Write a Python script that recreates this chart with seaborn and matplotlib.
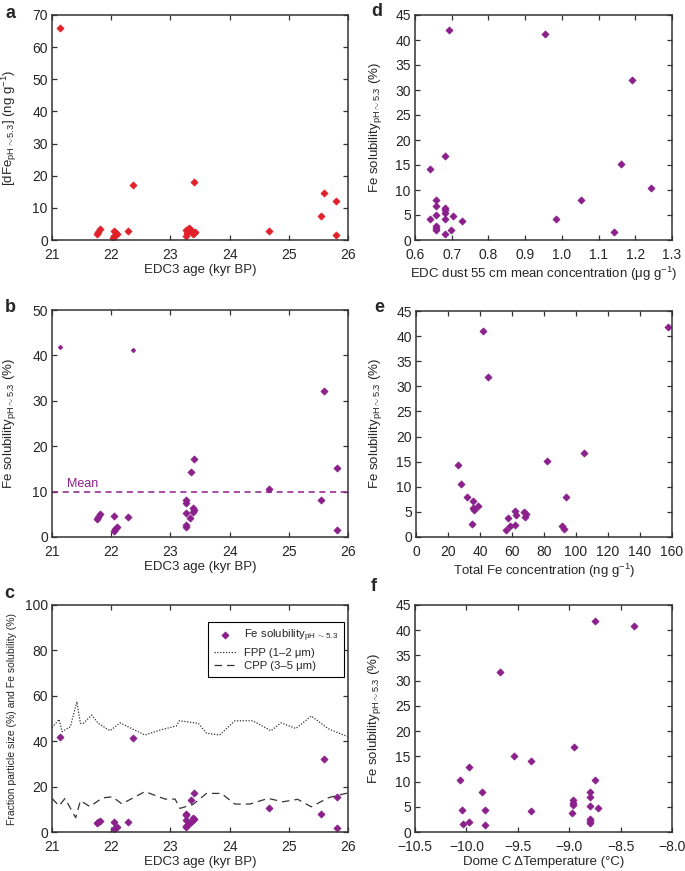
import numpy as np
import matplotlib
matplotlib.use("Agg")
from matplotlib import pyplot as plt
import seaborn as sns

sns.set_style("ticks")
plt.rcParams['font.family'] = ['Liberation Sans', 'DejaVu Sans']
plt.rcParams['mathtext.fontset'] = 'custom'
plt.rcParams['mathtext.rm'] = 'Liberation Sans'
plt.rcParams['mathtext.it'] = 'Liberation Sans:italic'
plt.rcParams['mathtext.bf'] = 'Liberation Sans:bold'

red = '#e2202a'
purple = '#8b1f8c'
dark = '#333333'

# panel a: dissolved Fe vs age
a_age = [21.14, 21.76, 21.78, 21.81, 22.04, 22.05, 22.03, 22.08, 22.10, 22.29, 22.36,
         23.27, 23.28, 23.27, 23.32, 23.35, 23.37, 23.40, 23.42, 23.38, 23.40,
         24.66, 25.55, 25.59, 25.80, 25.80]
a_dfe = [66.0, 1.9, 2.5, 3.3, 2.9, 1.1, 0.5, 2.3, 1.8, 2.7, 17.1,
         3.1, 2.1, 1.1, 3.6, 3.2, 2.6, 2.2, 2.6, 1.8, 17.9,
         2.9, 7.5, 14.5, 12.2, 1.5]

# panel b/c: Fe solubility vs age
b_age = [21.14, 21.76, 21.78, 21.81, 22.05, 22.04, 22.07, 22.09, 22.29, 22.36,
         23.27, 23.27, 23.27, 23.33, 23.38, 23.40, 23.38, 23.27, 23.27, 23.34, 23.40,
         24.67, 25.54, 25.59, 25.81, 25.81]
b_sol = [41.9, 3.9, 4.4, 5.0, 4.6, 1.3, 1.7, 2.1, 4.4, 41.2,
         8.1, 7.4, 5.3, 4.1, 6.3, 5.9, 5.5, 2.6, 2.1, 14.3, 17.1,
         10.5, 8.1, 32.1, 15.2, 1.6]
mean_sol = 10.0

# panel c: particle size fractions
fpp_age = [21.0, 21.12, 21.17, 21.31, 21.42, 21.48, 21.53, 21.67, 21.78, 21.98, 22.15,
           22.57, 22.82, 23.10, 23.15, 23.47, 23.61, 23.83, 24.09, 24.39, 24.70,
           24.87, 25.12, 25.38, 25.66, 25.85, 26.0]
fpp = [46.0, 49.6, 44.2, 46.4, 57.4, 47.9, 47.9, 51.5, 47.9, 44.6, 48.1,
       42.7, 44.9, 46.7, 49.0, 47.9, 43.5, 42.7, 49.0, 49.0, 44.6,
       48.1, 45.6, 51.1, 45.6, 43.5, 42.0]
cpp_age = [21.0, 21.12, 21.22, 21.40, 21.48, 21.64, 21.85, 22.02, 22.18, 22.57, 22.91,
           23.08, 23.16, 23.38, 23.61, 23.86, 24.09, 24.34, 24.65, 24.90, 25.15,
           25.38, 25.66, 25.85, 26.0]
cpp = [14.8, 11.5, 14.8, 6.3, 13.8, 11.2, 15.0, 15.5, 12.4, 17.8, 14.5,
       14.5, 10.4, 12.1, 17.0, 17.0, 12.3, 12.3, 14.8, 13.3, 14.4,
       11.1, 15.0, 16.3, 17.2]

# panel d: dust concentration
d_dust = [0.693, 0.954, 1.192, 0.682, 0.641, 1.160, 1.242, 1.051, 0.985, 1.141,
          0.658, 0.656, 0.682, 0.682, 0.682, 0.656, 0.640, 0.682, 0.704, 0.729,
          0.658, 0.658, 0.658, 0.697, 0.682]
d_sol = [42.0, 41.1, 32.0, 16.8, 14.1, 15.1, 10.3, 8.0, 4.2, 1.5,
         7.9, 6.8, 6.3, 5.9, 5.3, 5.0, 4.1, 4.1, 4.7, 3.7,
         2.7, 2.3, 1.9, 2.0, 1.1]

# panel e: total Fe
e_fe = [41.7, 157.3, 44.8, 26.0, 81.7, 104.8, 28.3, 32.1, 94.0, 35.6, 35.4, 36.5, 38.8,
        35.0, 61.7, 62.5, 67.3, 69.0, 68.3, 57.5, 59.0, 61.7, 56.5, 91.3, 92.3]
e_sol = [41.1, 41.8, 31.9, 14.3, 15.1, 16.7, 10.5, 8.0, 8.0, 7.1, 5.8, 5.4, 6.2,
         2.6, 5.2, 4.3, 4.9, 4.6, 4.0, 3.8, 2.1, 2.3, 1.3, 2.1, 1.6]

# panel f: temperature
f_temp = [-8.747, -8.370, -9.669, -8.958, -9.536, -9.367, -9.974, -10.062, -8.750,
          -9.844, -8.799, -8.795, -8.961, -8.961, -8.961, -8.799, -8.721, -10.039,
          -9.818, -9.370, -8.968, -8.799, -8.799, -8.799, -9.977, -10.036, -9.818]
f_sol = [41.8, 40.9, 31.8, 16.9, 15.1, 14.1, 12.9, 10.3, 10.3,
         7.9, 7.9, 6.9, 6.3, 5.8, 5.3, 5.2, 4.8, 4.3,
         4.4, 4.1, 3.8, 2.6, 2.2, 1.8, 2.0, 1.6, 1.3]

sol_label = r'Fe solubility$_{\mathrm{pH\sim5.3}}$ (%)'

W, H = 685, 871
fig = plt.figure(figsize=(W / 100, H / 100), dpi=100)


def px_axes(l, t, r, b):
    return fig.add_axes([l / W, 1 - b / H, (r - l) / W, (b - t) / H])


def style(ax):
    for s in ax.spines.values():
        s.set_color(dark)
        s.set_linewidth(1.1)
    ax.tick_params(direction='in', top=True, right=True, length=3.5, width=0.9,
                   color=dark, labelsize=10)
    ax.tick_params(axis='x', pad=5.5)
    ax.tick_params(axis='y', pad=3)


def dots(ax, x, y, color, s=14, **kw):
    sns.scatterplot(x=x, y=y, ax=ax, marker='D', s=s, color=color,
                    edgecolor=color, linewidth=0.4, legend=False, **kw)


ax_a = px_axes(52, 15, 348, 240)
ax_d = px_axes(415, 15, 672, 240)
ax_b = px_axes(52, 310, 348, 537)
ax_e = px_axes(416, 311, 672, 537)
ax_c = px_axes(52, 605, 348, 832)
ax_f = px_axes(415, 605, 672, 832)

age_ticks = np.arange(21, 27, 1)

# a
dots(ax_a, a_age, a_dfe, red)
ax_a.set_xlim(21, 26)
ax_a.set_ylim(0, 70)
ax_a.set_xticks(age_ticks)
ax_a.set_yticks(np.arange(0, 71, 10))
ax_a.set_xlabel('EDC3 age (kyr BP)', fontsize=9.5)
ax_a.set_ylabel(r'[dFe$_{\mathrm{pH\sim5.3}}$] (ng g$^{-1}$)', fontsize=9.5)

# b
b_age_arr = np.array(b_age)
b_sol_arr = np.array(b_sol)
small = np.zeros(len(b_age), dtype=bool)
small[[0, 9]] = True
dots(ax_b, b_age_arr[~small], b_sol_arr[~small], purple)
dots(ax_b, b_age_arr[small], b_sol_arr[small], purple, s=6)
ax_b.axhline(mean_sol, color=purple, lw=1.1, ls=(0, (4, 3)))
ax_b.text(21.25, mean_sol + 0.4, 'Mean', color=purple, fontsize=9, va='bottom')
ax_b.set_xlim(21, 26)
ax_b.set_ylim(0, 50)
ax_b.set_xticks(age_ticks)
ax_b.set_yticks(np.arange(0, 51, 10))
ax_b.set_xlabel('EDC3 age (kyr BP)', fontsize=9.5)
ax_b.set_ylabel(sol_label, fontsize=9.5)

# c
dots(ax_c, b_age, b_sol, purple)
ax_c.collections[-1].set_label(r'Fe solubility$_{\mathrm{pH\ \sim5.3}}$')
sns.lineplot(x=fpp_age, y=fpp, ax=ax_c, color=dark, lw=0.9, ls=(0, (1, 1.3)),
             sort=False, estimator=None, label='FPP (1–2 μm)')
sns.lineplot(x=cpp_age, y=cpp, ax=ax_c, color=dark, lw=0.9, ls=(0, (6, 4)),
             sort=False, estimator=None, label='CPP (3–5 μm)')
ax_c.set_xlim(21, 26)
ax_c.set_ylim(0, 100)
ax_c.set_xticks(age_ticks)
ax_c.set_yticks(np.arange(0, 101, 20))
ax_c.set_xlabel('EDC3 age (kyr BP)', fontsize=9.5)
ax_c.set_ylabel('Fraction particle size (%) and Fe solubility (%)', fontsize=7.5)
leg = ax_c.legend(loc='upper right', bbox_to_anchor=(0.985, 0.925), fontsize=8.2,
                  frameon=True, fancybox=False, edgecolor='black', framealpha=1,
                  handlelength=2.0, borderpad=0.5, labelspacing=0.3,
                  handletextpad=0.6, borderaxespad=0)
leg.get_frame().set_linewidth(0.8)

# d
dots(ax_d, d_dust, d_sol, purple)
ax_d.set_xlim(0.6, 1.3)
ax_d.set_ylim(0, 45)
ax_d.set_xticks(np.round(np.arange(0.6, 1.31, 0.1), 1))
ax_d.set_xticklabels([f'{v:.1f}' for v in np.arange(0.6, 1.31, 0.1)])
ax_d.set_yticks(np.arange(0, 46, 5))
ax_d.set_xlabel('EDC dust 55 cm mean concentration (μg g$^{-1}$)', fontsize=9.5)
ax_d.set_ylabel(sol_label, fontsize=9.5)

# e
dots(ax_e, e_fe, e_sol, purple)
ax_e.set_xlim(0, 160)
ax_e.set_ylim(0, 45)
ax_e.set_xticks(np.arange(0, 161, 20))
ax_e.set_yticks(np.arange(0, 46, 5))
ax_e.set_xlabel('Total Fe concentration (ng g$^{-1}$)', fontsize=9.5)
ax_e.set_ylabel(sol_label, fontsize=9.5)

# f
dots(ax_f, f_temp, f_sol, purple)
ax_f.set_xlim(-10.5, -8.0)
ax_f.set_ylim(0, 45)
ft = np.arange(-10.5, -7.99, 0.5)
ax_f.set_xticks(ft)
ax_f.set_xticklabels([f'{v:.1f}'.replace('-', '\u2212') for v in ft])
ax_f.set_yticks(np.arange(0, 46, 5))
ax_f.set_xlabel('Dome C ΔTemperature (°C)', fontsize=9.5)
ax_f.set_ylabel(sol_label, fontsize=9.5)

label_x = {ax_a: 19, ax_b: 18, ax_c: 17, ax_d: 384, ax_e: 384, ax_f: 383}
for ax in [ax_a, ax_b, ax_c, ax_d, ax_e, ax_f]:
    style(ax)
    pos = ax.get_position()
    ax.yaxis.set_label_coords((label_x[ax] / W - pos.x0) / pos.width, 0.5)
    ax.xaxis.labelpad = 2

for letter, x, y in [('a', 10, 13), ('d', 377, 12), ('b', 10, 308),
                     ('e', 379, 308), ('c', 9, 593), ('f', 374, 586)]:
    fig.text(x / W, 1 - y / H, letter, fontsize=13, fontweight='bold',
             ha='center', va='center')

fig.savefig('out.png', dpi=100)
